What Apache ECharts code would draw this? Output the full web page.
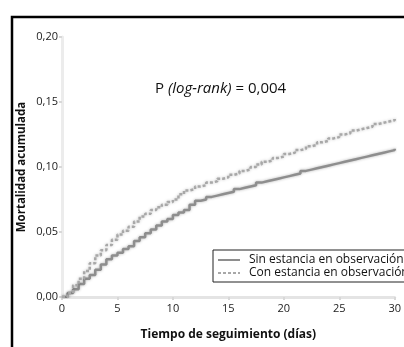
<!DOCTYPE html>
<html>
<head>
<meta charset="utf-8">
<script src="https://cdn.jsdelivr.net/npm/echarts@6/dist/echarts.min.js"></script>
<style>
  html, body { margin: 0; padding: 0; background: #fff; }
  #chart { width: 404px; height: 347px; }
</style>
</head>
<body>
<div id="chart"></div>
<script>
// follow-up days (half-day steps)
const days = [0, 0.5, 1, 1.5, 2, 2.5, 3, 3.5, 4, 4.5, 5, 5.5, 6, 6.5, 7, 7.5, 8, 8.5, 9, 9.5, 10,
  10.5, 11, 11.5, 12, 12.5, 13, 13.5, 14, 14.5, 15, 15.5, 16, 16.5, 17, 17.5, 18, 18.5, 19, 19.5, 20,
  20.5, 21, 21.5, 22, 22.5, 23, 23.5, 24, 24.5, 25, 25.5, 26, 26.5, 27, 27.5, 28, 28.5, 29, 29.5, 30];
// cumulative mortality, no observation stay (solid)
const sinEstancia = [0, 0.003, 0.006, 0.010, 0.014, 0.017, 0.021, 0.025, 0.029, 0.032, 0.034, 0.037, 0.039, 0.043, 0.046, 0.049, 0.052, 0.055, 0.058, 0.060, 0.063,
  0.065, 0.067, 0.071, 0.074, 0.075, 0.077, 0.078, 0.079, 0.080, 0.081, 0.083, 0.084, 0.085, 0.086, 0.088, 0.089, 0.090, 0.091, 0.092, 0.093,
  0.094, 0.095, 0.097, 0.098, 0.099, 0.100, 0.101, 0.102, 0.103, 0.104, 0.105, 0.106, 0.107, 0.108, 0.109, 0.110, 0.111, 0.112, 0.113, 0.114];
// cumulative mortality, with observation stay (dashed)
const conEstancia = [0, 0.003, 0.009, 0.014, 0.020, 0.026, 0.032, 0.036, 0.040, 0.044, 0.048, 0.051, 0.054, 0.058, 0.062, 0.064, 0.067, 0.069, 0.071, 0.073, 0.075,
  0.079, 0.082, 0.083, 0.085, 0.086, 0.088, 0.089, 0.091, 0.092, 0.094, 0.095, 0.097, 0.098, 0.100, 0.102, 0.104, 0.105, 0.107, 0.108, 0.110,
  0.111, 0.113, 0.114, 0.116, 0.117, 0.119, 0.120, 0.122, 0.123, 0.125, 0.126, 0.128, 0.129, 0.130, 0.131, 0.133, 0.134, 0.135, 0.136, 0.137];
const seriesNames = ['Sin estancia en observación', 'Con estancia en observación'];
const pText = 'P {i|(log-rank)} = 0,004';

const font = '"Open Sans", "Noto Sans", sans-serif';
const pairs = (ys) => days.map((d, i) => [d, ys[i]]);

const chart = echarts.init(document.getElementById('chart'));
chart.setOption({
  animation: false,
  textStyle: { fontFamily: font },
  grid: { left: 62, right: 4, top: 37, bottom: 50 },
  xAxis: {
    type: 'value',
    min: 0, max: 30, interval: 5,
    name: 'Tiempo de seguimiento (días)',
    nameLocation: 'middle',
    nameGap: 32,
    nameTextStyle: { fontFamily: font, fontSize: 12, fontWeight: 'bold', color: '#111' },
    axisLine: { lineStyle: { color: '#e4e4e4', width: 3 } },
    axisTick: { length: 3, lineStyle: { color: '#d8d8d8', width: 2 } },
    axisLabel: { color: '#222', fontSize: 11, margin: 6 },
    splitLine: { show: false }
  },
  yAxis: {
    type: 'value',
    min: 0, max: 0.2, interval: 0.05,
    name: 'Mortalidad acumulada',
    nameLocation: 'middle',
    nameGap: 34,
    nameMoveOverlap: false,
    nameTextStyle: { fontFamily: font, fontSize: 11.5, fontWeight: 'bold', color: '#111' },
    axisLine: { show: true, lineStyle: { color: '#ececec', width: 3 } },
    axisTick: { show: true, length: 3, lineStyle: { color: '#d8d8d8', width: 2 } },
    axisLabel: { color: '#222', fontSize: 11, margin: 4, formatter: v => v.toFixed(2).replace('.', ',') },
    splitLine: { show: false }
  },
  legend: {
    orient: 'vertical',
    left: 213, top: 250,
    padding: [4, 14, 3, 4],
    itemGap: 1,
    itemWidth: 22, itemHeight: 12,
    borderColor: '#222', borderWidth: 1,
    textStyle: { fontFamily: font, fontSize: 12, color: '#111', padding: [0, 0, 0, 4] },
    itemStyle: { opacity: 0 },
    data: seriesNames
  },
  graphic: [
    {
      type: 'rect', silent: true,
      shape: { x: 12, y: 17, width: 420, height: 360 },
      style: { fill: 'none', stroke: '#000', lineWidth: 2.5 }
    },
    {
      type: 'text', left: 155, top: 81, silent: true,
      style: {
        text: pText,
        fontFamily: font, fontSize: 15, fill: '#111',
        rich: { i: { fontStyle: 'italic', fontFamily: font, fontSize: 15, fill: '#111' } }
      }
    }
  ],
  series: [
    {
      name: seriesNames[0], type: 'line', step: 'end', symbol: 'none',
      data: pairs(sinEstancia),
      itemStyle: { color: '#8e8e8e' },
      lineStyle: { color: '#8e8e8e', width: 2.5, shadowBlur: 3, shadowColor: 'rgba(0,0,0,0.3)' }
    },
    {
      name: seriesNames[1], type: 'line', step: 'end', symbol: 'none',
      data: pairs(conEstancia),
      itemStyle: { color: '#a8a8a8' },
      lineStyle: { color: '#a8a8a8', width: 2.5, type: [3, 2], shadowBlur: 3, shadowColor: 'rgba(0,0,0,0.25)' }
    }
  ]
});
</script>
</body>
</html>
